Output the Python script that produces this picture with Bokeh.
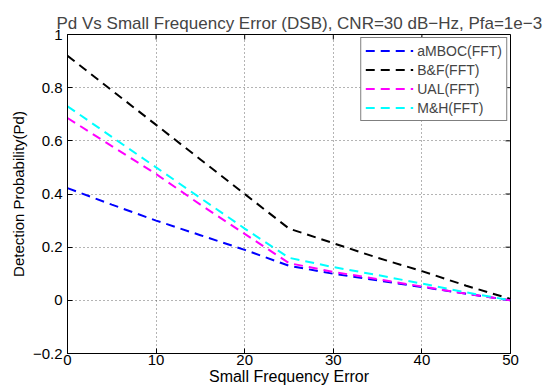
import math
from bokeh.plotting import figure
from bokeh.models import Range1d, Legend, LegendItem, FixedTicker
from bokeh.embed import file_html
from bokeh.resources import INLINE

# ---- data ----
freq_error = [0, 5, 10, 15, 20, 25, 30, 35, 40, 45, 50]
pd_amboc = [0.422, 0.36, 0.30, 0.245, 0.19, 0.13, 0.10, 0.075, 0.05, 0.025, 0.0]
pd_bf = [0.92, 0.79, 0.66, 0.53, 0.40, 0.27, 0.215, 0.16, 0.11, 0.055, 0.005]
pd_ual = [0.686, 0.58, 0.475, 0.36, 0.25, 0.14, 0.107, 0.08, 0.052, 0.025, 0.0]
pd_mh = [0.73, 0.615, 0.50, 0.385, 0.27, 0.16, 0.125, 0.095, 0.063, 0.03, 0.0]

series_names = ["aMBOC(FFT)", "B&F(FFT)", "UAL(FFT)", "M&H(FFT)"]
series_colors = ["#0000FF", "#000000", "#FF00FF", "#00FFFF"]

x_min, x_max = 0, 50
y_min, y_max = -0.2, 1.0
x_ticks = [0, 10, 20, 30, 40, 50]
y_ticks = [-0.2, 0, 0.2, 0.4, 0.6, 0.8, 1.0]
y_tick_labels = ["\u22120.2", "0", "0.2", "0.4", "0.6", "0.8", "1"]

title_text = "Pd Vs Small Frequency Error (DSB), CNR=30 dB\u2212Hz, Pfa=1e\u22123"
x_label = "Small Frequency Error"
y_label = "Detection Probability(Pd)"

FONT = "Liberation Sans"

p = figure(width=553, height=392, output_backend="svg", toolbar_location=None,
           x_range=Range1d(x_min, x_max), y_range=Range1d(y_min, y_max),
           min_border_left=67, min_border_top=34, min_border_right=43,
           min_border_bottom=39, background_fill_color="white",
           border_fill_color="white")

p.title.text = title_text
p.title.align = "left"
p.title.offset = -11
p.title.text_font = FONT
p.title.text_font_size = "17px"
p.title.text_font_style = "normal"
p.title.standoff = 4

p.outline_line_color = "black"
p.outline_line_width = 1

xt = FixedTicker(ticks=x_ticks)
yt = FixedTicker(ticks=y_ticks)

for ax in (p.xaxis[0], p.yaxis[0]):
    ax.major_tick_in = 5
    ax.major_tick_out = 0
    ax.minor_tick_in = 0
    ax.minor_tick_out = 0
    ax.axis_line_color = "black"
    ax.major_tick_line_color = "black"
    ax.major_label_text_font = FONT
    ax.major_label_text_color = "black"
    ax.major_label_text_font_size = "15px"
    ax.axis_label_text_font = FONT
    ax.axis_label_text_font_style = "normal"
    ax.axis_label_text_color = "black"

p.xaxis.axis_label_text_font_size = "16px"
p.yaxis.axis_label_text_font_size = "15px"
p.xaxis.ticker = xt
p.yaxis.ticker = yt
p.yaxis.major_label_overrides = {t: l for t, l in zip(y_ticks, y_tick_labels)}
p.xaxis.major_label_standoff = 1
p.yaxis.major_label_standoff = 5
p.xaxis.axis_label = x_label
p.yaxis.axis_label = y_label
p.xaxis.axis_label_standoff = 0
p.yaxis.axis_label_standoff = 3

# inward box ticks on the top and right edges
p.ray(x=x_ticks, y=[y_max] * len(x_ticks), length=5, length_units="screen",
      angle=-math.pi / 2, line_color="black", line_width=1)
p.ray(x=[x_max] * len(y_ticks), y=y_ticks, length=5, length_units="screen",
      angle=math.pi, line_color="black", line_width=1)

for g in (p.xgrid[0], p.ygrid[0]):
    g.grid_line_color = "#444444"
    g.grid_line_dash = "1 3"
    g.grid_line_width = 1
    g.grid_line_alpha = 0.8
p.xgrid.ticker = xt
p.ygrid.ticker = yt

items = []
for name, color, ys in zip(series_names, series_colors, [pd_amboc, pd_bf, pd_ual, pd_mh]):
    r = p.line(freq_error, ys, line_color=color, line_width=2, line_dash="9 6")
    items.append(LegendItem(label=name, renderers=[r]))

legend = Legend(items=items, location="top_right")
legend.label_text_font = FONT
legend.label_text_font_size = "14px"
legend.border_line_color = "black"
legend.border_line_width = 1
legend.background_fill_color = "white"
legend.background_fill_alpha = 1
legend.glyph_width = 48
legend.glyph_height = 17
legend.label_standoff = 4
legend.spacing = 2
legend.padding = 4
legend.margin = 3
legend.label_height = 17
p.add_layout(legend, "center")

open("out.html", "w").write(file_html(p, INLINE))
